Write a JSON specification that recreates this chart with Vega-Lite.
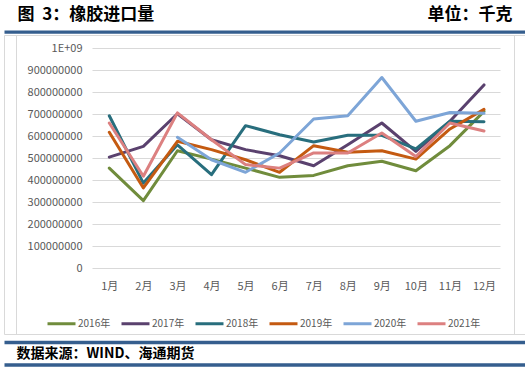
{
  "$schema": "https://vega.github.io/schema/vega-lite/v6.json",
  "width": 521,
  "height": 299,
  "autosize": {"type": "none"},
  "padding": {"left": 4, "top": 35, "right": 0, "bottom": 35},
  "background": "white",
  "config": {
    "view": {"stroke": "#d9d9d9", "strokeWidth": 1},
    "font": "Noto Sans CJK SC",
    "axis": {"labelFont": "Noto Sans CJK SC", "titleFont": "Noto Sans CJK SC"},
    "legend": {"labelFont": "Noto Sans CJK SC"}
  },
  "data": {
    "values": [
      {"month": "1月", "year": "2016年", "value": 454000000},
      {"month": "2月", "year": "2016年", "value": 306000000},
      {"month": "3月", "year": "2016年", "value": 533000000},
      {"month": "4月", "year": "2016年", "value": 495000000},
      {"month": "5月", "year": "2016年", "value": 454000000},
      {"month": "6月", "year": "2016年", "value": 412000000},
      {"month": "7月", "year": "2016年", "value": 421000000},
      {"month": "8月", "year": "2016年", "value": 465000000},
      {"month": "9月", "year": "2016年", "value": 485000000},
      {"month": "10月", "year": "2016年", "value": 442000000},
      {"month": "11月", "year": "2016年", "value": 556000000},
      {"month": "12月", "year": "2016年", "value": 712000000},
      {"month": "1月", "year": "2017年", "value": 504000000},
      {"month": "2月", "year": "2017年", "value": 553000000},
      {"month": "3月", "year": "2017年", "value": 701000000},
      {"month": "4月", "year": "2017年", "value": 583000000},
      {"month": "5月", "year": "2017年", "value": 538000000},
      {"month": "6月", "year": "2017年", "value": 510000000},
      {"month": "7月", "year": "2017年", "value": 465000000},
      {"month": "8月", "year": "2017年", "value": 560000000},
      {"month": "9月", "year": "2017年", "value": 659000000},
      {"month": "10月", "year": "2017年", "value": 530000000},
      {"month": "11月", "year": "2017年", "value": 667000000},
      {"month": "12月", "year": "2017年", "value": 832000000},
      {"month": "1月", "year": "2018年", "value": 692000000},
      {"month": "2月", "year": "2018年", "value": 386000000},
      {"month": "3月", "year": "2018年", "value": 560000000},
      {"month": "4月", "year": "2018年", "value": 424000000},
      {"month": "5月", "year": "2018年", "value": 647000000},
      {"month": "6月", "year": "2018年", "value": 606000000},
      {"month": "7月", "year": "2018年", "value": 573000000},
      {"month": "8月", "year": "2018年", "value": 603000000},
      {"month": "9月", "year": "2018年", "value": 603000000},
      {"month": "10月", "year": "2018年", "value": 541000000},
      {"month": "11月", "year": "2018年", "value": 667000000},
      {"month": "12月", "year": "2018年", "value": 665000000},
      {"month": "1月", "year": "2019年", "value": 617000000},
      {"month": "2月", "year": "2019年", "value": 364000000},
      {"month": "3月", "year": "2019年", "value": 576000000},
      {"month": "4月", "year": "2019年", "value": 538000000},
      {"month": "5月", "year": "2019年", "value": 492000000},
      {"month": "6月", "year": "2019年", "value": 435000000},
      {"month": "7月", "year": "2019年", "value": 556000000},
      {"month": "8月", "year": "2019年", "value": 526000000},
      {"month": "9月", "year": "2019年", "value": 533000000},
      {"month": "10月", "year": "2019年", "value": 495000000},
      {"month": "11月", "year": "2019年", "value": 632000000},
      {"month": "12月", "year": "2019年", "value": 721000000},
      {"month": "3月", "year": "2020年", "value": 594000000},
      {"month": "4月", "year": "2020年", "value": 492000000},
      {"month": "5月", "year": "2020年", "value": 435000000},
      {"month": "6月", "year": "2020年", "value": 523000000},
      {"month": "7月", "year": "2020年", "value": 677000000},
      {"month": "8月", "year": "2020年", "value": 692000000},
      {"month": "9月", "year": "2020年", "value": 866000000},
      {"month": "10月", "year": "2020年", "value": 667000000},
      {"month": "11月", "year": "2020年", "value": 707000000},
      {"month": "12月", "year": "2020年", "value": 703000000},
      {"month": "1月", "year": "2021年", "value": 659000000},
      {"month": "2月", "year": "2021年", "value": 417000000},
      {"month": "3月", "year": "2021年", "value": 705000000},
      {"month": "4月", "year": "2021年", "value": 583000000},
      {"month": "5月", "year": "2021年", "value": 470000000},
      {"month": "6月", "year": "2021年", "value": 454000000},
      {"month": "7月", "year": "2021年", "value": 523000000},
      {"month": "8月", "year": "2021年", "value": 523000000},
      {"month": "9月", "year": "2021年", "value": 614000000},
      {"month": "10月", "year": "2021年", "value": 507000000},
      {"month": "11月", "year": "2021年", "value": 659000000},
      {"month": "12月", "year": "2021年", "value": 623000000}
    ]
  },
  "layer": [
    {
      "mark": {"type": "line", "strokeWidth": 3, "strokeJoin": "round", "strokeCap": "round"},
      "encoding": {
        "x": {
          "field": "month", "type": "ordinal",
          "sort": ["1月","2月","3月","4月","5月","6月","7月","8月","9月","10月","11月","12月"],
          "scale": {"type": "point", "range": [105.3, 480], "padding": 0},
          "axis": {
            "orient": "bottom", "offset": 8,
            "domain": false, "ticks": false, "grid": false,
            "labelAngle": 0, "labelFontSize": 11, "labelColor": "#595959",
            "labelBaseline": "middle", "labelPadding": -55.3, "labelOverlap": false,
            "title": "数据来源：WIND、海通期货",
            "titleX": 12, "titleY": 11.3, "titleAlign": "left", "titleAnchor": "start", "titleBaseline": "middle",
            "titleFontSize": 14, "titleFontWeight": "bold", "titleColor": "#000000"
          }
        },
        "y": {
          "field": "value", "type": "quantitative",
          "scale": {"domain": [-300000000, 1059090909], "nice": false, "zero": false},
          "axis": {
            "orient": "left", "offset": -12,
            "domain": true, "domainColor": "#d9d9d9", "domainWidth": 1,
            "ticks": false, "grid": false,
            "values": [0, 100000000, 200000000, 300000000, 400000000, 500000000, 600000000, 700000000, 800000000, 900000000, 1000000000],
            "labelExpr": "datum.value >= 1000000000 ? '1E+09' : format(datum.value, 'd')",
            "labelPadding": -66, "labelAlign": "right", "labelBaseline": "middle",
            "labelFontSize": 11, "labelColor": "#595959", "labelOverlap": false,
            "title": "单位：千克", "titleAngle": 0,
            "titleX": 496, "titleY": -20.7, "titleAlign": "right", "titleBaseline": "middle",
            "titleFontSize": 17, "titleFontWeight": "bold", "titleColor": "#000000"
          }
        },
        "color": {
          "field": "year", "type": "nominal",
          "scale": {
            "domain": ["2016年","2017年","2018年","2019年","2020年","2021年"],
            "range": ["#708C3C","#5A416E","#286E7D","#C45A11","#7DA5D7","#DC8080"]
          },
          "legend": {
            "orient": "none", "legendX": 42, "legendY": 273,
            "direction": "horizontal", "title": null,
            "symbolType": "stroke", "symbolSize": 784, "symbolStrokeWidth": 3,
            "labelFontSize": 10, "labelColor": "#595959", "labelOffset": 1,
            "columnPadding": 4, "padding": 0
          }
        }
      }
    },
    {
      "transform": [{"filter": "false"}],
      "mark": "point",
      "encoding": {
        "x": {
          "field": "month", "type": "ordinal",
          "scale": {"type": "point", "domain": ["1月","2月","3月","4月","5月","6月","7月","8月","9月","10月","11月","12月"]},
          "axis": {
            "orient": "top", "offset": 3.3,
            "domain": true, "domainColor": "#355E8E", "domainWidth": 3.3,
            "ticks": false, "labels": false, "grid": false, "title": null
          }
        },
        "y": {
          "field": "value", "type": "quantitative",
          "scale": {"domain": [-300000000, 1059090909], "nice": false, "zero": false},
          "axis": {
            "orient": "right", "offset": -11,
            "domain": true, "domainColor": "#d9d9d9", "domainWidth": 1,
            "ticks": false, "labels": false, "grid": false,
            "title": "图\u00a0\u00a03：橡胶进口量", "titleAngle": 0,
            "titleX": -497, "titleY": -20.7, "titleAlign": "left", "titleBaseline": "middle",
            "titleFontSize": 17, "titleFontWeight": "bold", "titleColor": "#000000"
          }
        }
      }
    },
    {
      "transform": [{"filter": "false"}],
      "mark": "point",
      "encoding": {
        "x": {
          "field": "month", "type": "ordinal",
          "scale": {"type": "point", "domain": ["1月","2月","3月","4月","5月","6月","7月","8月","9月","10月","11月","12月"]},
          "axis": {
            "orient": "bottom", "offset": 30.5,
            "domain": true, "domainColor": "#355E8E", "domainWidth": 3.5,
            "ticks": false, "labels": false, "grid": false, "title": null
          }
        },
        "y": {
          "field": "value", "type": "quantitative",
          "scale": {"domain": [-300000000, 1059090909], "nice": false, "zero": false},
          "axis": {
            "orient": "right", "offset": -25,
            "domain": false, "labels": false, "grid": false, "title": null,
            "ticks": true, "tickSize": -408, "tickColor": "#d9d9d9", "tickWidth": 1,
            "values": [0, 100000000, 200000000, 300000000, 400000000, 500000000, 600000000, 700000000, 800000000, 900000000, 1000000000]
          }
        }
      }
    },
    {
      "transform": [{"filter": "false"}],
      "mark": "point",
      "encoding": {
        "x": {
          "field": "month", "type": "ordinal",
          "scale": {"type": "point", "domain": ["1月","2月","3月","4月","5月","6月","7月","8月","9月","10月","11月","12月"]},
          "axis": {
            "orient": "bottom", "offset": 8,
            "domain": true, "domainColor": "#355E8E", "domainWidth": 3.5,
            "ticks": false, "labels": false, "grid": false, "title": null
          }
        },
        "y": {
          "field": "value", "type": "quantitative",
          "scale": {"domain": [-300000000, 1059090909], "nice": false, "zero": false},
          "axis": null
        }
      }
    }
  ],
  "resolve": {"scale": {"x": "independent"}, "axis": {"x": "independent", "y": "independent"}}
}
